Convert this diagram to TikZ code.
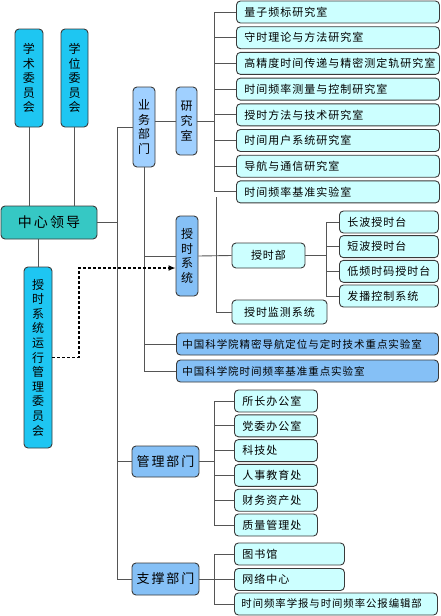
\documentclass[tikz,border=0pt]{standalone}
\usepackage{fontspec}
\setmainfont{Noto Sans CJK SC}
\newfontfamily\cjk[LetterSpace=9]{Noto Sans CJK SC}
\newfontfamily\cjkwide[LetterSpace=15]{Noto Sans CJK SC}
\usetikzlibrary{arrows.meta}

\definecolor{topcyan}{HTML}{1EC6F2}
\definecolor{leadteal}{HTML}{36C8C4}
\definecolor{deptblue}{HTML}{A0D0FF}
\definecolor{labblue}{HTML}{85C0F6}
\definecolor{leafcyan}{HTML}{CCFFFF}
\definecolor{boxline}{HTML}{3A3A3A}
\definecolor{linkgray}{HTML}{555555}

\tikzset{
  box/.style={draw=boxline, line width=0.9pt, rounded corners=4pt, inner sep=0pt,
    font=\cjk\fontsize{11}{13}\selectfont},
  vbox/.style={box, align=center, font=\cjk\fontsize{12}{14.6}\selectfont},
  leaf/.style={box, fill=leafcyan, anchor=west, minimum height=22pt,
    text width=#1, align=left, inner xsep=8pt},
  dept/.style={box, fill=labblue, minimum width=67pt, minimum height=31pt,
    font=\cjkwide\fontsize{13}{15}\selectfont},
  link/.style={draw=linkgray, line width=0.9pt},
  dashlink/.style={draw=black, line width=1.5pt, dash pattern=on 3pt off 2pt,
    -{Latex[length=7pt,width=6pt]}}
}

\begin{document}
\begin{tikzpicture}[x=1pt,y=-1pt]

  \useasboundingbox (0,0) rectangle (440,616);

  % === LEFT COLUMN ===
  \node[vbox, fill=topcyan, minimum width=28pt, minimum height=98pt] (xueshu) at (29,78) {学\\术\\委\\员\\会};
  \node[vbox, fill=topcyan, minimum width=27pt, minimum height=98pt] (xuewei) at (74.5,78) {学\\位\\委\\员\\会};
  \node[box, fill=leadteal, minimum width=96pt, minimum height=33pt,
        font=\cjkwide\fontsize{14}{16}\selectfont] (lingdao) at (49,222.5) {中心领导};
  \node[vbox, fill=topcyan, minimum width=28pt, minimum height=181pt] (yunxing) at (38,357.5)
    {授\\时\\系\\统\\运\\行\\管\\理\\委\\员\\会};

  \draw[link] (xueshu.south) -- (xueshu.south |- lingdao.north);
  \draw[link] (xuewei.south) -- (xuewei.south |- lingdao.north);
  \draw[link] (yunxing.north) -- (yunxing.north |- lingdao.south);

  % === DEPARTMENTS ===
  \node[vbox, fill=deptblue, minimum width=22pt, minimum height=80pt] (yewu) at (144,127) {业\\务\\部\\门};
  \node[vbox, fill=deptblue, minimum width=21pt, minimum height=68pt] (yanjiu) at (186.5,121) {研\\究\\室};
  \node[dept] (guanli) at (165.5,461.5) {管理部门};
  \node[dept, minimum height=32pt] (zhicheng) at (165.5,579) {支撑部门};

  % main trunk
  \coordinate (mbus) at (117,0);
  \draw[link] (lingdao.east) -- (lingdao.east -| mbus);
  \draw[link] (yewu.west -| mbus) -- (zhicheng.west -| mbus);
  \foreach \d in {yewu,guanli,zhicheng}
    \draw[link] (\d.west) -- (\d.west -| mbus);
  \draw[link] (yanjiu.west) -- (yanjiu.west -| yewu.east);

  % === RESEARCH LABS ===
  \foreach \txt [count=\i] in {量子频标研究室, 守时理论与方法研究室,
      高精度时间传递与精密测定轨研究室, 时间频率测量与控制研究室,
      授时方法与技术研究室, 时间用户系统研究室, 导航与通信研究室,
      时间频率基准实验室}
    \node[leaf=187pt] (lab\i) at (236,{12+25.7*(\i-1)}) {\txt};

  \coordinate (rbus) at (214,0);
  \draw[link] (yanjiu.east) -- (yanjiu.east -| rbus);
  \draw[link] (lab1.west -| rbus) -- (lab8.west -| rbus);
  \foreach \i in {1,...,8}
    \draw[link] (lab\i.west) -- (lab\i.west -| rbus);

  % === TIMING SYSTEM ===
  \node[vbox, fill=labblue, minimum width=22pt, minimum height=80pt] (shixi) at (187,256) {授\\时\\系\\统};
  \node[box, fill=leafcyan, minimum width=73pt, minimum height=25pt] (shoushibu) at (268.5,255.5) {授时部};
  \node[box, fill=leafcyan, minimum width=95pt, minimum height=24pt] (jiance) at (279.5,312) {授时监测系统};

  \foreach \txt [count=\i] in {长波授时台, 短波授时台, 低频时码授时台, 发播控制系统}
    \node[leaf=83pt] (tai\i) at (339,{222+24.67*(\i-1)}) {\txt};

  \coordinate (sbus) at (216,197);
  \draw[link] (sbus) -- (sbus |- jiance.west) -- (jiance.west);
  \draw[link] (shixi.east) -- (shoushibu.west);

  \coordinate (tbus) at (326,0);
  \draw[link] (shoushibu.east) -- (shoushibu.east -| tbus);
  \draw[link] (tai1.west -| tbus) -- (tai4.west -| tbus);
  \foreach \i in {1,...,4}
    \draw[link] (tai\i.west) -- (tai\i.west -| tbus);

  % === CAS KEY LABS ===
  \node[leaf=250pt, fill=labblue, inner xsep=6pt, font=\cjk\fontsize{10.5}{13}\selectfont] (cas1) at (176,344) {中国科学院精密导航定位与定时技术重点实验室};
  \node[leaf=250pt, fill=labblue, inner xsep=6pt, font=\cjk\fontsize{10.5}{13}\selectfont] (cas2) at (176,371) {中国科学院时间频率基准重点实验室};

  \draw[link] (yewu.south) -- (yewu.south |- cas2.west) -- (cas2.west);
  \draw[link] (cas1.west) -- (cas1.west -| yewu.south);
  \draw[link] (shixi.west) -- (shixi.west -| yewu.south);

  % dashed link from committee
  \coordinate (dashbend) at (79,268);
  \draw[dashlink] (yunxing.east) -| (dashbend) -- (dashbend -| shixi.west);

  % === ADMIN OFFICES ===
  \foreach \txt [count=\i] in {所长办公室, 党委办公室, 科技处, 人事教育处, 财务资产处, 质量管理处}
    \node[leaf=67pt] (adm\i) at (234,{401+24.8*(\i-1)}) {\txt};

  \coordinate (abus) at (214,0);
  \draw[link] (guanli.east) -- (guanli.east -| abus);
  \draw[link] (adm1.west -| abus) -- (adm6.west -| abus);
  \foreach \i in {1,...,6}
    \draw[link] (adm\i.west) -- (adm\i.west -| abus);

  % === SUPPORT UNITS ===
  \node[leaf=94pt] (sup1) at (234,554) {图书馆};
  \node[leaf=94pt] (sup2) at (234,579.5) {网络中心};
  \node[leaf=189pt, inner xsep=7pt, font=\cjk\fontsize{10.4}{13}\selectfont] (sup3) at (234,604) {时间频率学报与时间频率公报编辑部};

  \draw[link] (zhicheng.east) -- (zhicheng.east -| abus);
  \draw[link] (sup1.west -| abus) -- (sup3.west -| abus);
  \foreach \i in {1,2,3}
    \draw[link] (sup\i.west) -- (sup\i.west -| abus);

\end{tikzpicture}
\end{document}
